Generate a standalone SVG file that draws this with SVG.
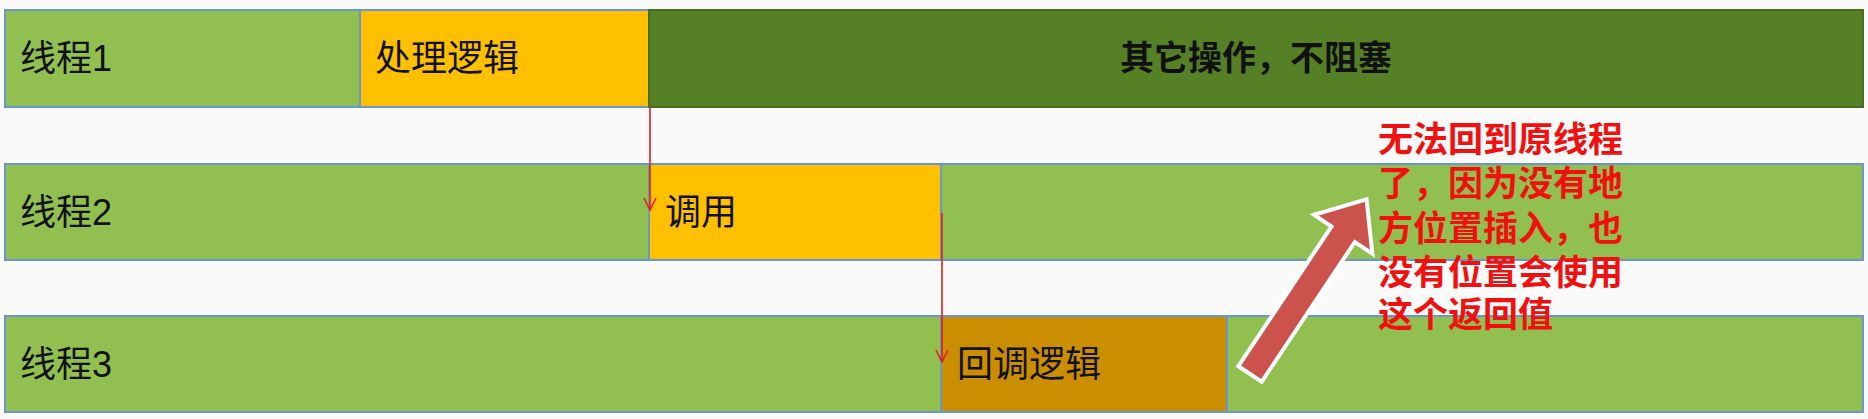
<svg xmlns="http://www.w3.org/2000/svg" width="1868" height="419" viewBox="0 0 1868 419">
<defs>
<style>
.lg{fill:#92C050;stroke:#6A96D0;stroke-width:2}
.or{fill:#FFC000;stroke:#6A96D0;stroke-width:2}
.dg{fill:#568025;stroke:#4A6E20;stroke-width:2}
.do{fill:#CA8E00;stroke:#6A96D0;stroke-width:2}
.t{font-family:"Liberation Sans","Noto Sans CJK SC",sans-serif;font-size:36px;fill:#111;dominant-baseline:central}
.b{font-weight:bold;font-size:34px}
.red{font-family:"Liberation Sans","Noto Sans CJK SC",sans-serif;font-size:35px;font-weight:bold;fill:#F01010;dominant-baseline:central}
.conn{stroke:#E0201A;stroke-width:1.6;fill:none}
</style>
<marker id="ah" viewBox="0 0 14 14" refX="13" refY="7" markerWidth="14" markerHeight="14" markerUnits="userSpaceOnUse" orient="auto">
<path d="M1,1 L13,7 L1,13" fill="none" stroke="#E0201A" stroke-width="1.6"/>
</marker>
</defs>
<rect x="0" y="0" width="1868" height="419" fill="#FAFAFA"/>
<g id="row1">
<rect class="lg" x="5" y="10" width="355" height="97"/>
<text class="t" x="20" y="58">线程1</text>
</g>
<g id="proc">
<rect class="or" x="360" y="10" width="289" height="97"/>
<text class="t" x="375" y="58">处理逻辑</text>
</g>
<g id="other">
<rect class="dg" x="649" y="10" width="1214" height="97"/>
<text class="t b" x="1256" y="58" text-anchor="middle">其它操作，不阻塞</text>
</g>
<g id="row2">
<rect class="lg" x="5" y="164" width="644" height="96"/>
<text class="t" x="20" y="212">线程2</text>
</g>
<g id="call">
<rect class="or" x="649" y="164" width="292" height="96"/>
<text class="t" x="665" y="212">调用</text>
</g>
<g id="row2r">
<rect class="lg" x="941" y="164" width="922" height="96"/>
</g>
<g id="row3">
<rect class="lg" x="5" y="316" width="936" height="96"/>
<text class="t" x="20" y="364">线程3</text>
</g>
<g id="callback">
<rect class="do" x="941" y="316" width="286" height="96"/>
<text class="t" x="957" y="364">回调逻辑</text>
</g>
<g id="row3r">
<rect class="lg" x="1227" y="316" width="636" height="96"/>
</g>
<g id="connectors">
<line class="conn" x1="650" y1="107" x2="650" y2="210" marker-end="url(#ah)"/>
<line class="conn" x1="942" y1="213" x2="942" y2="362" marker-end="url(#ah)"/>
</g>
<g id="bigarrow" transform="translate(1250,374) rotate(-56.3)">
<path d="M0,-14 L168,-14 L168,-35 L210,0 L168,35 L168,14 L0,14 Z" fill="#CC524E" stroke="#FFFFFF" stroke-width="4" stroke-linejoin="miter"/>
</g>
<g id="note">
<text class="red" x="1378" y="139">无法回到原线程</text>
<text class="red" x="1378" y="183">了，因为没有地</text>
<text class="red" x="1378" y="228">方位置插入，也</text>
<text class="red" x="1378" y="272">没有位置会使用</text>
<text class="red" x="1378" y="314">这个返回值</text>
</g>
</svg>
